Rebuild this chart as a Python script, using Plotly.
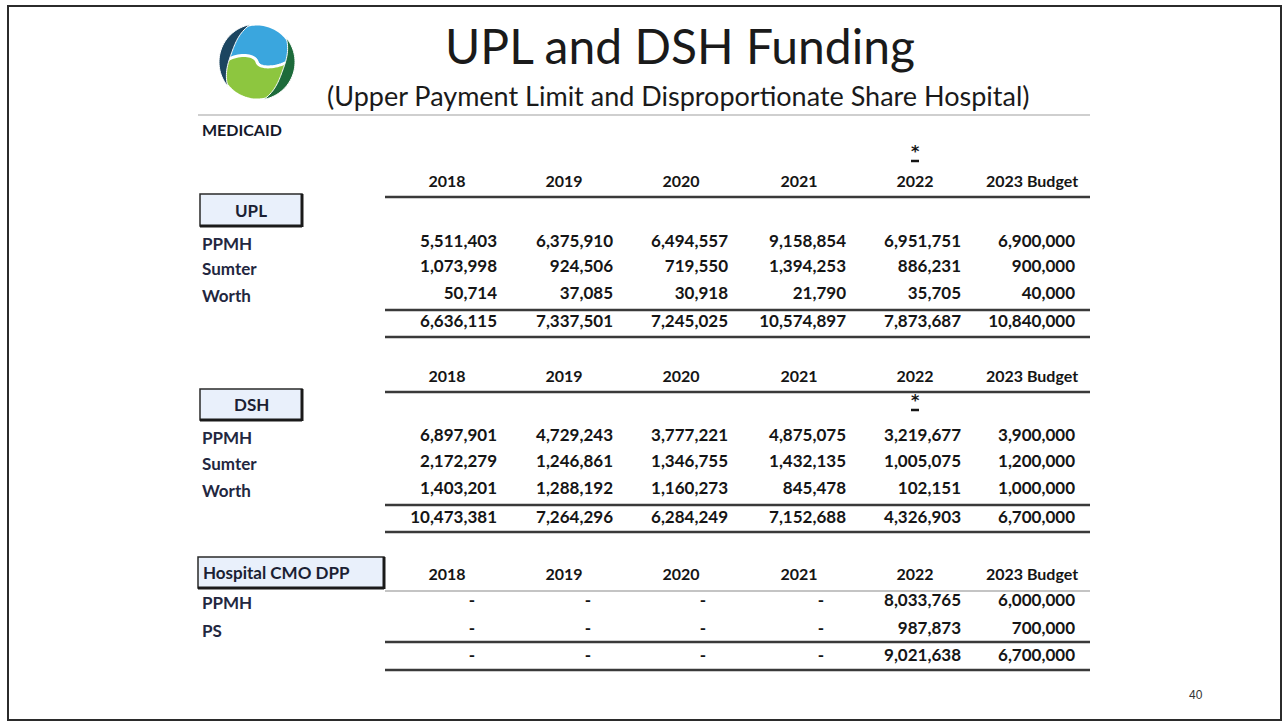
import math
import plotly.graph_objects as go

# ---------------- data ----------------
years = ["2018", "2019", "2020", "2021", "2022", "2023 Budget"]

upl_rows = ["PPMH", "Sumter", "Worth"]
upl_ppmh = [5511403, 6375910, 6494557, 9158854, 6951751, 6900000]
upl_sumter = [1073998, 924506, 719550, 1394253, 886231, 900000]
upl_worth = [50714, 37085, 30918, 21790, 35705, 40000]
upl_total = [6636115, 7337501, 7245025, 10574897, 7873687, 10840000]

dsh_rows = ["PPMH", "Sumter", "Worth"]
dsh_ppmh = [6897901, 4729243, 3777221, 4875075, 3219677, 3900000]
dsh_sumter = [2172279, 1246861, 1346755, 1432135, 1005075, 1200000]
dsh_worth = [1403201, 1288192, 1160273, 845478, 102151, 1000000]
dsh_total = [10473381, 7264296, 6284249, 7152688, 4326903, 6700000]

cmo_rows = ["PPMH", "PS"]
cmo_ppmh = [None, None, None, None, 8033765, 6000000]
cmo_ps = [None, None, None, None, 987873, 700000]
cmo_total = [None, None, None, None, 9021638, 6700000]

# ---------------- layout constants ----------------
W, H = 1284, 725
FONT = "Lato"
col_right = [497, 613, 728, 846, 961, 1075]
head_center = [447, 564, 681, 799, 915, 1032]
LINE_X0, LINE_X1 = 385, 1090
LABEL_X = 200
NAVY = "#23273f"
NUM = "#151515"

fig = go.Figure()
shapes = []
annotations = []


def fmt(v):
    return "-" if v is None else f"{v:,}"


def value_row(vals, y):
    xs, ts = [], []
    for i, v in enumerate(vals):
        xs.append(col_right[i] - 22 if v is None else col_right[i])
        ts.append(fmt(v))
    fig.add_trace(go.Scatter(
        x=xs, y=[y] * len(xs), mode="text", text=ts,
        textposition="middle left",
        textfont=dict(family=FONT, size=17, color=NUM, weight="bold"),
        hoverinfo="skip", showlegend=False))


def header_row(y):
    fig.add_trace(go.Scatter(
        x=head_center, y=[y] * len(years), mode="text", text=years,
        textposition="middle center",
        textfont=dict(family=FONT, size=16, color=NUM, weight="bold"),
        hoverinfo="skip", showlegend=False))


def hline(y, width=2.6, color="#3a3a3a"):
    shapes.append(dict(type="line", xref="x", yref="y", x0=LINE_X0, x1=LINE_X1,
                       y0=y, y1=y, line=dict(color=color, width=width)))


def label(text, y, x=LABEL_X, size=17, color=NAVY):
    annotations.append(dict(x=x, y=y, xref="x", yref="y", text=f"<b>{text}</b>",
                            showarrow=False, xanchor="left", yanchor="middle",
                            font=dict(family=FONT, size=size, color=color)))


def box(x0, y0, x1, y1, text, center=True, size=17):
    shapes.append(dict(type="rect", xref="x", yref="y", x0=x0, x1=x1, y0=y0, y1=y1,
                       fillcolor="#e9f0fb", line=dict(color="#2a2a2a", width=1.5)))
    shapes.append(dict(type="line", xref="x", yref="y", x0=x1, x1=x1, y0=y0, y1=y1 + 1,
                       line=dict(color="#1a1a1a", width=3)))
    shapes.append(dict(type="line", xref="x", yref="y", x0=x0, x1=x1, y0=y1, y1=y1,
                       line=dict(color="#1a1a1a", width=3)))
    annotations.append(dict(x=(x0 + x1) / 2 if center else x0 + 3, y=(y0 + y1) / 2,
                            xref="x", yref="y", text=f"<b>{text}</b>", showarrow=False,
                            xanchor="center" if center else "left", yanchor="middle",
                            font=dict(family=FONT, size=size, color="#1b1f33")))


def star_mark(y):
    annotations.append(dict(x=head_center[4], y=y + 2, xref="x", yref="y", text="<b>*</b>",
                            showarrow=False, xanchor="center", yanchor="middle",
                            font=dict(family="DejaVu Sans", size=16, color=NUM)))
    shapes.append(dict(type="line", xref="x", yref="y", x0=head_center[4] - 4,
                       x1=head_center[4] + 4, y0=y + 12, y1=y + 12,
                       line=dict(color=NUM, width=2.5)))


# ---------------- slide frame ----------------
shapes.append(dict(type="rect", xref="x", yref="y", x0=8, x1=1281, y0=6, y1=720,
                   line=dict(color="#2b2b2b", width=2), fillcolor="rgba(0,0,0,0)"))

# ---------------- logo ----------------
CX, CY, R = 257, 62, 38
ROT = 14.0  # degrees


def to_screen(x, y):
    a = math.radians(ROT)
    xr = x * math.cos(a) - y * math.sin(a)
    yr = x * math.sin(a) + y * math.cos(a)
    return (CX + xr, CY - yr)


def path_of(pts):
    return "M " + " L ".join(f"{x:.2f},{y:.2f}" for x, y in pts) + " Z"


def blob_pts(flip):
    amp_l, amp_r = 0.45, 0.55
    pts = []
    for i in range(61):  # outer upper arc 0 -> 180
        a = math.pi * i / 60
        pts.append((R * math.cos(a), R * math.sin(a)))
    for i in range(31):  # left small arc, above axis, from (-R,0) to (0,0)
        a = math.pi - math.pi * i / 30
        pts.append((-R / 2 + R / 2 * math.cos(a), amp_l * R / 2 * math.sin(a)))
    for i in range(31):  # right small arc, below axis, from (0,0) to (R,0)
        a = math.pi + math.pi * i / 30
        pts.append((R / 2 + R / 2 * math.cos(a), amp_r * R / 2 * math.sin(a)))
    if flip:
        pts = [(-x, -y) for x, y in pts]
    return [to_screen(x, y) for x, y in pts]


def crescent(a0, a1, tmax, n=40):
    pts = []
    for i in range(n + 1):
        a = math.radians(a0 + (a1 - a0) * i / n)
        pts.append((CX + R * math.cos(a), CY - R * math.sin(a)))
    for i in range(n, -1, -1):
        a = math.radians(a0 + (a1 - a0) * i / n)
        r = R - tmax * math.sin(math.pi * i / n)
        pts.append((CX + r * math.cos(a), CY - r * math.sin(a)))
    return path_of(pts)


shapes.append(dict(type="path", xref="x", yref="y", path=path_of(blob_pts(False)),
                   fillcolor="#3aa6de", line=dict(width=3, color="white")))
shapes.append(dict(type="path", xref="x", yref="y", path=path_of(blob_pts(True)),
                   fillcolor="#8dc63f", line=dict(width=3, color="white")))
shapes.append(dict(type="path", xref="x", yref="y", path=crescent(100, 220, 11),
                   fillcolor="#1c4560", line=dict(width=1, color="white")))
shapes.append(dict(type="path", xref="x", yref="y", path=crescent(-80, 40, 11),
                   fillcolor="#1d6b3b", line=dict(width=1, color="white")))

# ---------------- titles ----------------
annotations.append(dict(x=680, y=45, xref="x", yref="y", text="UPL and DSH Funding",
                        showarrow=False, xanchor="center", yanchor="middle",
                        font=dict(family=FONT, size=48, color="#1a1a1a")))
annotations.append(dict(x=678, y=95, xref="x", yref="y",
                        text="(Upper Payment Limit and Disproportionate Share Hospital)",
                        showarrow=False, xanchor="center", yanchor="middle",
                        font=dict(family=FONT, size=27, color="#1a1a1a")))
shapes.append(dict(type="line", xref="x", yref="y", x0=198, x1=1090, y0=115, y1=115,
                   line=dict(color="#cfcfcf", width=2)))
label("MEDICAID", 129, size=16, color="#15182a")

# ---------------- UPL ----------------
star_mark(149)
header_row(183)
hline(197)
box(200, 194, 302, 226, "UPL")
for name, vals, y in zip(upl_rows, [upl_ppmh, upl_sumter, upl_worth], [243, 268, 295]):
    label(name, y)
    value_row(vals, y)
hline(310)
value_row(upl_total, 323)
hline(337)

# ---------------- DSH ----------------
header_row(378)
hline(392)
box(200, 389, 302, 420, "DSH")
star_mark(398)
for name, vals, y in zip(dsh_rows, [dsh_ppmh, dsh_sumter, dsh_worth], [437, 463, 490]):
    label(name, y)
    value_row(vals, y)
hline(505)
value_row(dsh_total, 519)
hline(532)

# ---------------- Hospital CMO DPP ----------------
box(198, 557, 384, 588, "Hospital CMO DPP", center=False, size=17)
header_row(576)
hline(591, width=1.2, color="#8a8a8a")
for name, vals, y in zip(cmo_rows, [cmo_ppmh, cmo_ps], [602, 630]):
    label(name, y)
    value_row(vals, y)
hline(642)
value_row(cmo_total, 657)
hline(670)

# page number
annotations.append(dict(x=1196, y=695, xref="x", yref="y", text="40", showarrow=False,
                        xanchor="center", yanchor="middle",
                        font=dict(family="Liberation Sans", size=12, color="#333")))

fig.update_layout(
    width=W, height=H, margin=dict(l=0, r=0, t=0, b=0),
    paper_bgcolor="white", plot_bgcolor="white",
    xaxis=dict(range=[0, W], visible=False, fixedrange=True),
    yaxis=dict(range=[H, 0], visible=False, fixedrange=True),
    shapes=shapes, annotations=annotations, showlegend=False,
)

fig.write_html("out.html", config={"displayModeBar": False},
               post_script="document.body.style.margin='0px';document.body.style.overflow='hidden';")
